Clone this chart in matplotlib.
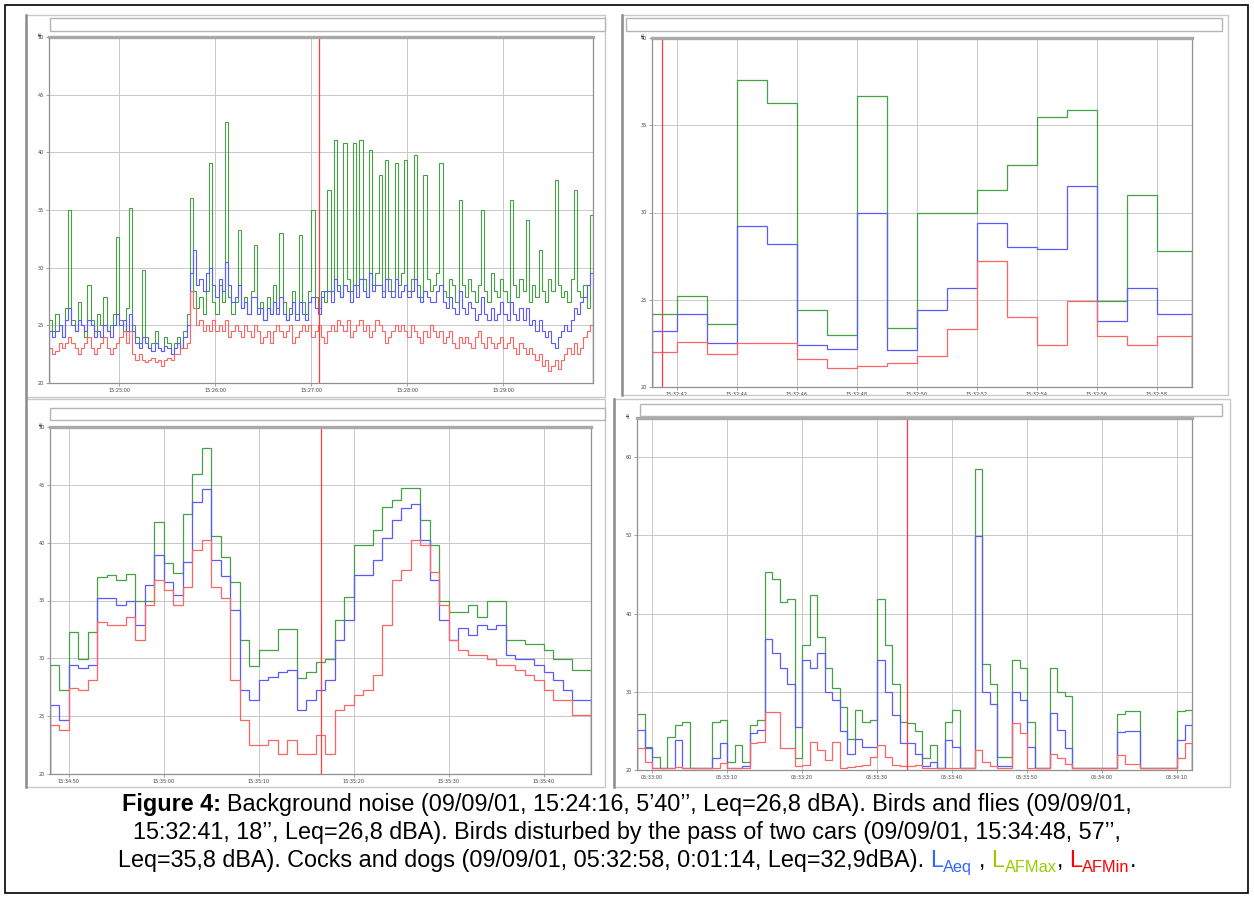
import matplotlib
matplotlib.use('Agg')
import matplotlib.pyplot as plt
from matplotlib.patches import Rectangle
import numpy as np

W, H = 1254, 898
GREEN = '#46a046'
BLUE = '#5a5aff'
RED = '#ff6464'
CURSOR = '#ff3c3c'

# ---------------- data ----------------
# Panel 1: background noise, 15:24:16, 340 s, 2 s steps
p1_green = [25.5, 24.5, 26.0, 25.0, 24.0, 26.5, 35.0, 25.5, 24.5, 27.0,
            25.0, 24.0, 28.5, 25.5, 24.5, 26.0, 25.0, 27.5, 24.5, 25.0,
            26.0, 32.7, 25.5, 24.5, 26.5, 35.2, 25.0, 24.0, 23.5, 29.8,
            24.0, 23.0, 23.5, 24.5, 23.0, 22.8, 24.0, 23.5, 22.5, 23.5,
            24.0, 23.0, 24.5, 26.0, 36.0, 28.0, 26.5, 27.5, 26.0, 28.0,
            39.1, 27.0, 26.0, 28.5, 27.0, 42.6, 27.5, 26.0, 27.0, 33.3,
            26.5, 27.5, 26.0, 28.0, 32.0, 26.5, 27.0, 25.5, 27.5, 26.0,
            28.5, 26.5, 33.0, 27.0, 25.5, 26.5, 28.0, 26.0, 32.8, 27.0,
            26.0, 28.0, 35.0, 27.5, 26.5, 28.0, 27.0, 36.7, 28.0, 41.1,
            28.5, 27.5, 40.8, 29.0, 28.0, 40.8, 28.5, 41.1, 29.0, 27.5,
            40.2, 28.5, 29.5, 38.0, 28.0, 39.3, 29.0, 28.0, 39.1, 28.5,
            29.5, 39.3, 28.0, 29.0, 39.8, 28.5, 27.5, 38.0, 29.0, 28.0,
            28.5, 29.5, 39.1, 28.0, 27.5, 29.0, 28.5, 27.0, 35.9, 28.5,
            27.5, 29.0, 28.0, 27.0, 28.5, 35.0, 28.0, 27.0, 29.5, 28.0,
            27.5, 29.0, 28.0, 27.0, 35.9, 28.5, 27.5, 29.0, 28.0, 34.1,
            27.0, 28.5, 27.5, 31.5, 28.0, 27.0, 29.0, 28.0, 37.6, 28.5,
            27.5, 28.0, 27.0, 29.0, 36.7, 28.0, 27.5, 28.5, 26.5, 34.6]
p1_blue = [24.5, 24.0, 24.5, 25.0, 24.0, 25.5, 26.5, 25.0, 24.5, 25.5,
           25.0, 24.5, 25.5, 25.0, 24.0, 24.5, 24.0, 25.0, 24.5, 24.0,
           25.0, 26.0, 25.0, 25.5, 24.5, 26.0, 24.5, 23.5, 23.0, 24.0,
           23.5, 23.0, 22.8, 23.5, 23.0, 22.8, 23.2, 23.0, 22.5, 23.0,
           23.5, 23.0, 24.0, 25.0, 29.5, 31.5, 28.5, 29.0, 28.0, 29.5,
           30.0, 28.5, 27.5, 29.0, 28.0, 30.5, 28.5, 27.0, 27.5, 28.5,
           26.5, 27.0, 26.0, 27.5, 27.5, 26.0, 26.5, 25.5, 26.5, 26.0,
           27.0, 26.0, 27.5, 26.0, 25.5, 26.0, 27.0, 25.5, 27.0, 26.0,
           25.5, 27.0, 27.5, 26.5, 26.0, 27.5, 28.0, 28.0, 27.0, 29.0,
           28.0, 27.5, 28.5, 28.0, 27.0, 28.5, 27.5, 29.0, 28.0, 27.5,
           29.5, 28.0, 28.5, 28.5, 27.5, 29.0, 28.0, 27.5, 29.0, 27.5,
           28.0, 28.5, 27.5, 28.0, 29.0, 27.5, 27.0, 28.0, 27.5, 27.0,
           27.0, 28.0, 28.5, 27.0, 26.5, 27.5, 26.5, 26.0, 28.0, 26.5,
           26.0, 27.0, 26.5, 25.5, 26.0, 27.5, 26.0, 25.5, 26.5, 25.5,
           26.0, 27.0, 26.0, 25.5, 27.0, 26.0, 25.5, 26.5, 25.5, 26.5,
           25.0, 25.5, 24.5, 25.5, 24.5, 24.0, 24.5, 23.5, 23.0, 24.0,
           24.5, 25.0, 24.5, 25.5, 26.5, 26.0, 27.0, 27.5, 28.5, 29.5]
p1_red = [23.0, 22.5, 22.8, 23.5, 23.0, 23.5, 24.0, 23.5, 23.0, 22.5,
          23.0, 23.5, 24.0, 23.0, 22.5, 23.0, 23.5, 24.0, 23.0, 22.5,
          23.0, 23.5, 24.0, 24.5, 23.5, 24.5, 22.5, 22.0, 22.5, 22.0,
          21.8, 22.0, 22.2, 21.8, 22.0, 21.5, 22.0, 22.2, 22.0, 22.5,
          22.5, 23.0, 23.0, 23.5, 28.0, 26.5, 25.0, 25.5, 24.5, 25.0,
          24.5, 25.5, 24.5, 25.0, 24.5, 25.5, 24.0, 24.5, 25.0, 24.5,
          24.0, 25.0, 24.5, 24.0, 25.0, 24.5, 23.5, 24.0, 24.5, 23.5,
          24.5, 25.0, 24.5, 24.0, 24.5, 25.0, 23.5, 24.0, 24.5, 25.0,
          24.5, 25.0, 24.0, 24.5, 25.0, 24.0, 23.5, 24.5, 25.0, 24.5,
          25.5, 25.0, 24.5, 25.5, 24.0, 24.5, 25.0, 25.5, 24.5, 25.0,
          24.0, 24.5, 25.5, 25.0, 24.5, 23.5, 24.0, 24.5, 25.0, 24.5,
          25.0, 24.5, 24.0, 25.0, 24.5, 24.0, 23.5, 24.5, 24.0, 25.0,
          24.5, 24.0, 24.5, 23.5, 24.0, 24.5, 23.5, 23.0, 24.0, 23.5,
          24.0, 23.5, 23.0, 24.0, 24.5, 23.5, 23.0, 24.0, 23.5, 23.0,
          23.5, 24.0, 23.0, 23.5, 24.0, 23.0, 22.5, 23.5, 23.0, 22.5,
          23.0, 22.5, 22.0, 22.5, 21.5, 22.0, 21.0, 21.5, 22.0, 21.2,
          22.0, 22.5, 23.0, 22.5, 23.5, 22.5, 23.0, 24.0, 24.5, 25.0]
p1_ticks = ['15:25:00', '15:26:00', '15:27:00', '15:28:00', '15:29:00']

# Panel 2: birds and flies, 15:32:41, 18 s, 1 s steps
p2_green = [24.2, 25.2, 23.6, 37.6, 36.3, 24.4, 23.0, 36.7, 23.4, 30.0,
            30.0, 31.3, 32.7, 35.5, 35.9, 24.9, 31.0, 27.8]
p2_blue = [23.2, 24.2, 22.5, 29.2, 28.2, 22.4, 22.2, 30.0, 22.1, 24.4,
           25.7, 29.4, 28.0, 27.9, 31.5, 23.8, 25.7, 24.2]
p2_red = [22.0, 22.6, 21.9, 22.5, 22.5, 21.6, 21.1, 21.2, 21.4, 21.8,
          23.3, 27.2, 24.0, 22.4, 24.9, 22.9, 22.4, 22.9]
p2_ticks = ['15:32:42', '15:32:44', '15:32:46', '15:32:48', '15:32:50',
            '15:32:52', '15:32:54', '15:32:56', '15:32:58']

# Panel 3: birds disturbed by two cars, 15:34:48, 57 s, 1 s steps
p3_green = [29.4, 27.3, 32.3, 29.9, 32.3, 37.0, 37.2, 36.8, 37.3, 35.0,
            35.0, 41.8, 38.2, 37.4, 42.5, 45.9, 48.2, 40.6, 38.8, 36.6,
            31.6, 29.3, 30.7, 30.7, 32.5, 32.5, 28.3, 28.8, 29.7, 29.9,
            33.3, 35.3, 39.8, 39.8, 41.1, 43.1, 43.7, 44.7, 44.7, 42.0,
            39.8, 35.0, 34.0, 34.0, 34.6, 33.6, 35.0, 35.0, 31.6, 31.6,
            31.2, 31.2, 30.7, 29.9, 29.9, 29.0, 29.0]
p3_blue = [26.0, 24.7, 29.4, 29.2, 29.4, 35.2, 35.2, 34.6, 35.0, 32.9,
           36.3, 38.9, 36.6, 35.5, 38.3, 43.5, 44.6, 38.5, 37.1, 34.2,
           27.3, 26.4, 28.1, 28.4, 28.8, 29.0, 25.5, 26.4, 27.3, 28.1,
           31.6, 33.3, 37.2, 37.2, 38.5, 40.4, 42.0, 43.0, 43.3, 40.2,
           36.8, 33.3, 31.6, 32.6, 32.0, 32.9, 32.5, 32.9, 30.3, 29.9,
           29.9, 29.4, 28.8, 28.1, 27.3, 26.4, 26.4]
p3_red = [24.2, 23.8, 27.4, 27.3, 28.1, 33.1, 32.9, 32.9, 33.6, 31.6,
          34.6, 36.8, 35.9, 34.6, 36.2, 39.4, 40.2, 36.2, 35.2, 28.1,
          24.7, 22.5, 22.5, 22.9, 21.7, 22.9, 21.7, 21.7, 23.4, 21.7,
          25.5, 26.0, 26.8, 27.3, 28.6, 32.9, 36.8, 37.6, 40.2, 39.8,
          37.5, 34.6, 31.6, 30.7, 30.3, 30.3, 29.9, 29.4, 29.4, 29.0,
          28.6, 28.1, 27.3, 26.4, 26.4, 25.1, 25.1]
p3_ticks = ['15:34:50', '15:35:00', '15:35:10', '15:35:20', '15:35:30', '15:35:40']

# Panel 4: cocks and dogs, 05:32:58, 74 s, 1 s steps
p4_green = [27.1, 23.0, 21.7, 20.2, 24.2, 25.8, 26.2, 20.2, 20.2, 20.2,
            26.2, 26.4, 21.0, 23.2, 21.0, 25.8, 26.4, 45.3, 44.4, 41.5,
            41.8, 21.5, 36.0, 42.4, 37.0, 33.0, 30.5, 28.0, 24.0, 27.7,
            26.2, 26.4, 41.8, 36.0, 31.0, 26.2, 26.0, 25.0, 21.5, 23.2,
            20.3, 26.2, 27.7, 20.3, 20.3, 58.5, 33.6, 31.0, 21.7, 21.7,
            34.0, 33.1, 26.2, 20.3, 20.3, 33.0, 30.0, 29.5, 20.3, 20.3,
            20.3, 20.3, 20.3, 20.3, 27.1, 27.5, 27.5, 20.3, 20.3, 20.3,
            20.3, 20.3, 27.5, 27.7]
p4_blue = [25.1, 22.8, 20.2, 20.2, 20.3, 23.8, 20.3, 20.2, 20.2, 20.2,
           21.5, 23.5, 20.2, 20.3, 20.5, 24.7, 25.1, 36.7, 35.0, 33.0,
           31.0, 25.5, 34.0, 33.0, 35.0, 30.0, 29.0, 25.0, 22.0, 24.0,
           23.0, 23.0, 34.0, 30.0, 27.0, 23.5, 23.5, 22.0, 20.5, 21.0,
           20.2, 23.8, 23.0, 20.2, 20.2, 49.9, 30.0, 28.5, 20.5, 20.5,
           30.0, 29.0, 23.0, 20.2, 20.2, 27.3, 25.1, 22.8, 20.2, 20.2,
           20.2, 20.2, 20.2, 20.2, 24.9, 25.0, 25.0, 20.2, 20.2, 20.2,
           20.2, 20.2, 23.8, 25.8]
p4_red = [22.8, 21.0, 20.2, 20.2, 20.2, 20.4, 20.2, 20.2, 20.2, 20.2,
          20.2, 20.9, 20.2, 20.2, 20.2, 23.5, 23.6, 27.4, 27.4, 22.8,
          22.8, 20.5, 20.7, 23.6, 22.6, 21.3, 23.6, 20.3, 20.4, 20.5,
          20.6, 21.6, 23.2, 21.6, 20.6, 20.5, 20.5, 20.6, 20.3, 20.2,
          20.2, 20.3, 20.2, 20.2, 20.2, 22.5, 21.0, 20.5, 20.2, 20.2,
          26.0, 24.7, 20.3, 20.2, 20.2, 22.0, 21.5, 20.8, 20.2, 20.2,
          20.2, 20.2, 20.2, 20.2, 21.9, 20.8, 20.8, 20.2, 20.2, 20.2,
          20.2, 20.2, 21.5, 23.5]
p4_ticks = ['05:33:00', '05:33:10', '05:33:20', '05:33:30', '05:33:40',
            '05:33:50', '05:34:00', '05:34:10']

fig = plt.figure(figsize=(W / 100, H / 100), dpi=100)
fig.patch.set_facecolor('white')


def frac(x0, y0, x1, y1):
    return [x0 / W, 1 - y1 / H, (x1 - x0) / W, (y1 - y0) / H]


def rect(x0, y0, x1, y1, **kw):
    fig.add_artist(Rectangle((x0 / W, 1 - y1 / H), (x1 - x0) / W, (y1 - y0) / H,
                             transform=fig.transFigure, **kw))


def panel(ax_px, frame_px, bar_px, edges, g, b, r, ylim, yticks,
          xticks, xlabels, cursor, lw=0.9):
    rect(*frame_px, fill=False, ec='#c8c8c8', lw=1.0)
    fx0, fy0, fx1, fy1 = frame_px
    fig.add_artist(plt.Line2D([fx0 / W, fx0 / W], [1 - fy0 / H, 1 - fy1 / H],
                              transform=fig.transFigure, color='#8c8c8c', lw=1.8))
    rect(*bar_px, fc='white', ec='#b4b4b4', lw=1.0)
    ax = fig.add_axes(frac(*ax_px))
    ax.stairs(g, edges, color=GREEN, lw=lw)
    ax.stairs(b, edges, color=BLUE, lw=lw)
    ax.stairs(r, edges, color=RED, lw=lw)
    ax.axvline(cursor, color=CURSOR, lw=0.9)
    ax.set_xlim(edges[0], edges[-1])
    ax.set_ylim(*ylim)
    ax.set_yticks(yticks)
    ax.set_yticklabels([str(v) for v in yticks], fontsize=3.5, color='#404040')
    ax.set_xticks(xticks)
    ax.set_xticklabels(xlabels, fontsize=3.5, color='#404040')
    ax.tick_params(length=2, width=0.5, color='#808080', pad=1.5)
    ax.grid(color='#c8c8c8', lw=0.7)
    ax.set_axisbelow(True)
    for s in ['left', 'bottom', 'right']:
        ax.spines[s].set_color('#909090')
        ax.spines[s].set_linewidth(0.9)
    ax.spines['top'].set_color('#a8a8a8')
    ax.spines['top'].set_linewidth(2.4)
    ax.text(-0.012, 1.0, 'dB', transform=ax.transAxes, rotation=90,
            fontsize=3.2, color='#404040', ha='right', va='bottom')
    return ax


# panel 1
e1 = np.arange(0, 2 * len(p1_green) + 1, 2)
panel((49, 37, 593, 383), (26, 15, 605, 397), (50, 18, 605, 31), e1,
      p1_green, p1_blue, p1_red, (20, 50), list(range(20, 51, 5)),
      [44, 104, 164, 224, 284], p1_ticks, 169, lw=0.8)

# panel 2
e2 = np.concatenate([[0], np.arange(0.83, 17, 1.0), [18]])
panel((652, 38, 1192, 387), (622, 15, 1228, 395), (626, 18, 1222, 31), e2,
      p2_green, p2_blue, p2_red, (20, 40), list(range(20, 41, 5)),
      list(np.arange(0.83, 17, 2.0)), p2_ticks, 0.33)

# panel 3
e3 = np.arange(0, len(p3_green) + 1)
panel((50, 427, 591, 774), (26, 399, 605, 787), (50, 408, 605, 420), e3,
      p3_green, p3_blue, p3_red, (20, 50), list(range(20, 51, 5)),
      [2, 12, 22, 32, 42, 52], p3_ticks, 28.5)

# panel 4
e4 = np.arange(0, len(p4_green) + 1)
panel((637, 418, 1192, 770), (614, 399, 1230, 787), (640, 404, 1222, 416), e4,
      p4_green, p4_blue, p4_red, (20, 65), list(range(20, 61, 10)),
      list(range(2, 74, 10)), p4_ticks, 36)

# outer border
rect(5, 5, 1248, 893, fill=False, ec='black', lw=1.2)

# caption
FS = 16.8
renderer = fig.canvas.get_renderer()


def width(s, size=FS, weight='normal'):
    t = fig.text(0, 0, s, fontsize=size, fontweight=weight, family='Liberation Sans')
    w = t.get_window_extent(renderer).width
    t.remove()
    return w


SP = width('a a') - width('aa')


def rich_line(runs, base_px):
    items = []
    total = 0
    for txt, col, bold, sub, gap in runs:
        size = FS * 0.7 if sub else FS
        t = fig.text(0, 0, txt, color=col, fontsize=size,
                     fontweight='bold' if bold else 'normal',
                     family='Liberation Sans', va='baseline', ha='left')
        w = t.get_window_extent(renderer).width
        items.append((t, w, sub, gap))
        total += w + (SP if gap else 0)
    x = (W - total) / 2
    for t, w, sub, gap in items:
        y = base_px + (5 if sub else 0)
        t.set_position((x / W, 1 - y / H))
        x += w + (SP if gap else 0)


K = 'black'
rich_line([('Figure 4:', K, True, False, True),
           ('Background noise (09/09/01, 15:24:16, 5\u201940\u2019\u2019, Leq=26,8 dBA). '
            'Birds and flies (09/09/01,', K, False, False, False)], 811)
rich_line([('15:32:41, 18\u2019\u2019, Leq=26,8 dBA). Birds disturbed by the pass of two '
            'cars (09/09/01, 15:34:48, 57\u2019\u2019,', K, False, False, False)], 839)
rich_line([('Leq=35,8 dBA). Cocks and dogs (09/09/01, 05:32:58, 0:01:14, Leq=32,9dBA).',
            K, False, False, True),
           ('L', '#3366ff', False, False, False),
           ('Aeq', '#3366ff', False, True, True),
           (',', K, False, False, True),
           ('L', '#99cc00', False, False, False),
           ('AFMax', '#99cc00', False, True, False),
           (',', K, False, False, True),
           ('L', '#ff0000', False, False, False),
           ('AFMin', '#ff0000', False, True, False),
           ('.', K, False, False, False)], 867)

fig.savefig('out.png', dpi=100)
